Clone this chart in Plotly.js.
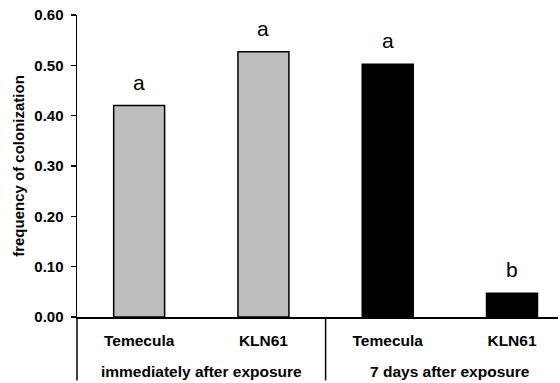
<!DOCTYPE html>
<html>
<head>
<meta charset="utf-8">
<script src="https://cdn.plot.ly/plotly-3.0.1.min.js"></script>
<style>html,body{margin:0;padding:0;background:#fff;}#chart{width:560px;height:383px;}</style>
</head>
<body>
<div id="chart"></div>
<script>
const categories = ['Temecula', 'KLN61', 'Temecula', 'KLN61'];
const groups = ['immediately after exposure', '7 days after exposure'];
const groupOf = [0, 0, 1, 1];
const values = [0.42, 0.527, 0.502, 0.047];
const letters = ['a', 'a', 'a', 'b'];
const barColors = ['#bebebe', '#bebebe', '#000000', '#000000'];
const yTicks = [0, 0.1, 0.2, 0.3, 0.4, 0.5, 0.6];

const FONT = 'Liberation Sans, Arial, sans-serif';
const xs = categories.map((c, i) => i);

const trace = {
  type: 'bar',
  x: xs,
  y: values,
  width: 0.41,
  marker: {color: barColors, line: {color: '#000', width: 1.5}},
  hoverinfo: 'skip'
};

const annotations = [];
values.forEach((v, i) => {
  annotations.push({
    x: xs[i], y: v, xref: 'x', yref: 'y', text: letters[i], showarrow: false,
    yanchor: 'bottom', yshift: 10,
    font: {family: FONT, size: 21, color: '#000'}
  });
});
groups.forEach((g, gi) => {
  const members = xs.filter((x, i) => groupOf[i] === gi);
  const cx = members.reduce((a, b) => a + b, 0) / members.length;
  annotations.push({
    x: cx, y: -0.182, xref: 'x', yref: 'paper', text: '<b>' + g + '</b>', showarrow: false,
    yanchor: 'middle',
    font: {family: FONT, size: 15.5, color: '#000'}
  });
});

const shapes = [
  {type: 'line', xref: 'paper', yref: 'paper', x0: 0, x1: 0, y0: 0, y1: -0.21,
   line: {color: '#000', width: 1.5}},
  {type: 'line', xref: 'x', yref: 'paper', x0: 1.5, x1: 1.5, y0: 0, y1: -0.21,
   line: {color: '#000', width: 1.5}}
];

const layout = {
  width: 560, height: 383,
  margin: {l: 77, r: 2, t: 15, b: 66},
  paper_bgcolor: '#fff', plot_bgcolor: '#fff',
  showlegend: false,
  bargap: 0,
  xaxis: {
    range: [-0.5, 3.37],
    tickvals: xs,
    ticktext: categories.map(c => '<b>' + c + '</b>'),
    ticks: 'outside', ticklen: 9, tickcolor: 'rgba(0,0,0,0)',
    tickfont: {family: FONT, size: 15.5, color: '#000'},
    showline: true, linecolor: '#000', linewidth: 1.5,
    showgrid: false, zeroline: false, fixedrange: true
  },
  yaxis: {
    range: [0, 0.6],
    tickvals: yTicks,
    ticktext: yTicks.map(t => '<b>' + t.toFixed(2) + '</b>'),
    ticks: 'outside', ticklen: 5, tickwidth: 1.5, tickcolor: '#000',
    ticklabelstandoff: 4,
    tickfont: {family: FONT, size: 15, color: '#000'},
    showline: true, linecolor: '#000', linewidth: 1.5,
    showgrid: false, zeroline: false, fixedrange: true,
    title: {text: '<b>frequency of colonization</b>', standoff: 6,
            font: {family: FONT, size: 15, color: '#000'}}
  },
  annotations: annotations,
  shapes: shapes
};

Plotly.newPlot('chart', [trace], layout, {staticPlot: true, displayModeBar: false});
</script>
</body>
</html>
